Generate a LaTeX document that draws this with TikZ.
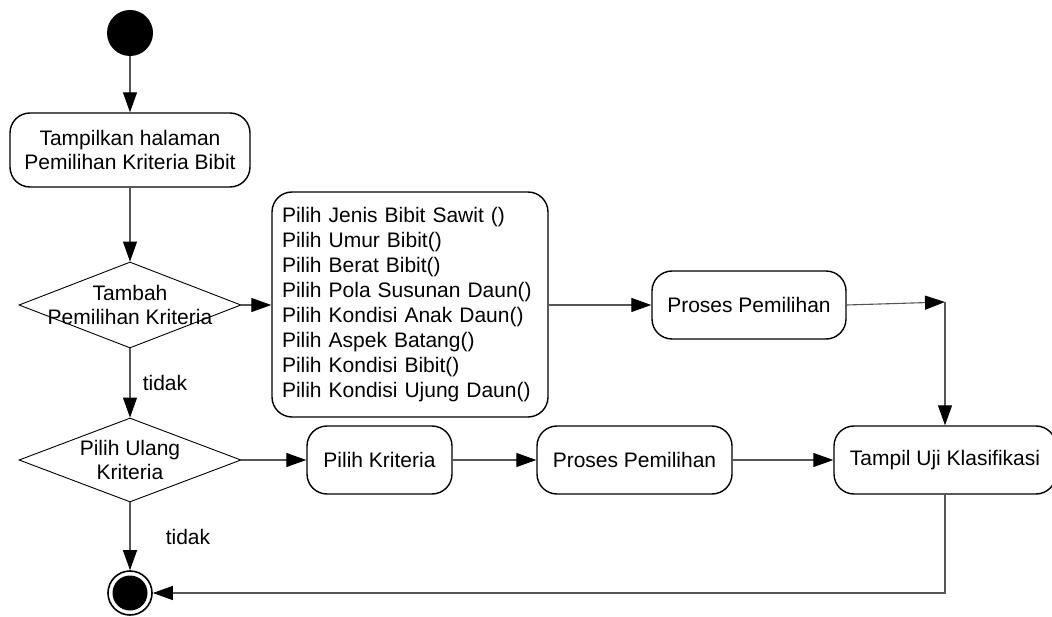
\documentclass[tikz,border=0pt]{standalone}
\usepackage{fontspec}
\setmainfont{Liberation Sans}
\usetikzlibrary{shapes.geometric,arrows.meta}
\definecolor{linegray}{RGB}{85,85,85}
\definecolor{plaingray}{RGB}{60,60,60}
\tikzset{
  act/.style={draw=black, line width=1.4pt, rounded corners=20pt, minimum height=68pt, inner sep=0pt, align=center},
  dec/.style={draw=black, line width=0.9pt, diamond, minimum width=222pt, minimum height=86pt, inner sep=0pt},
  flow/.style={draw=linegray, line width=1.1pt, -{Triangle[length=20pt,width=14pt,color=black]}},
  plain/.style={draw=plaingray, line width=1pt},
  lbl/.style={inner sep=0pt}
}
\begin{document}
\begin{tikzpicture}[x=1pt,y=-1pt,font=\fontsize{21}{24.5}\selectfont]
\useasboundingbox (0,0) rectangle (1052,617);
% start
\node[circle, fill=black, minimum size=46pt, inner sep=0pt] (start) at (130,33) {};
% first activity
\node[act, minimum width=240pt, minimum height=74pt] (show) at (130,150) {Tampilkan halaman\\Pemilihan Kriteria Bibit};
% decision 1
\node[dec] (d1) at (130,305) {};
\node[lbl, align=center] (d1t) at (130,305) {Tambah\\Pemilihan Kriteria};
% list activity
\node[act, text width=256pt, inner xsep=10pt, minimum height=225pt, align=left, font=\fontsize{21}{25}\selectfont] (list) at (410,304.5) {Pilih Jenis Bibit Sawit ()\\Pilih Umur Bibit()\\Pilih Berat Bibit()\\Pilih Pola Susunan Daun()\\Pilih Kondisi Anak Daun()\\Pilih Aspek Batang()\\Pilih Kondisi Bibit()\\Pilih Kondisi Ujung Daun()};
% proses 1
\node[act, minimum width=194pt] (pp1) at (749,305) {Proses Pemilihan};
\coordinate (j) at (945,302);
% decision 2
\node[dec, minimum height=84pt] (d2) at (130,460) {};
\node[lbl, align=center] (d2t) at (130,460) {Pilih Ulang\\Kriteria};
% bottom row
\node[act, minimum width=145pt] (pk) at (379.5,460) {Pilih Kriteria};
\node[act, minimum width=195pt] (pp2) at (634.5,460) {Proses Pemilihan};
\node[act, minimum width=222pt] (tuk) at (945,460) {Tampil Uji Klasifikasi};
% end
\node[circle, draw=black, line width=1.6pt, minimum size=44pt, inner sep=0pt] (end) at (130,593) {};
\node[circle, fill=black, minimum size=35pt, inner sep=0pt] (endin) at (130,593) {};
% labels
\node[lbl] (t1) at (165,383) {tidak};
\node[lbl] (t2) at (188,537) {tidak};
% connectors
\draw[flow] (start) -- (show);
\draw[flow] (show) -- (d1.north);
\draw[flow] (d1.east) -- (list.west |- d1.east);
\draw[flow] (d1.south) -- (d2.north);
\draw[flow] (list.east |- pp1.west) -- (pp1.west);
\draw[flow] (pp1.east) -- (j);
\draw[flow] (j) -- (j |- tuk.north);
\draw[flow] (d2.east) -- (pk.west);
\draw[flow] (pk) -- (pp2);
\draw[flow] (pp2) -- (tuk);
\draw[flow] (d2.south) -- (end.north);
\draw[flow] (tuk.south) |- (end.east);
\end{tikzpicture}
\end{document}
